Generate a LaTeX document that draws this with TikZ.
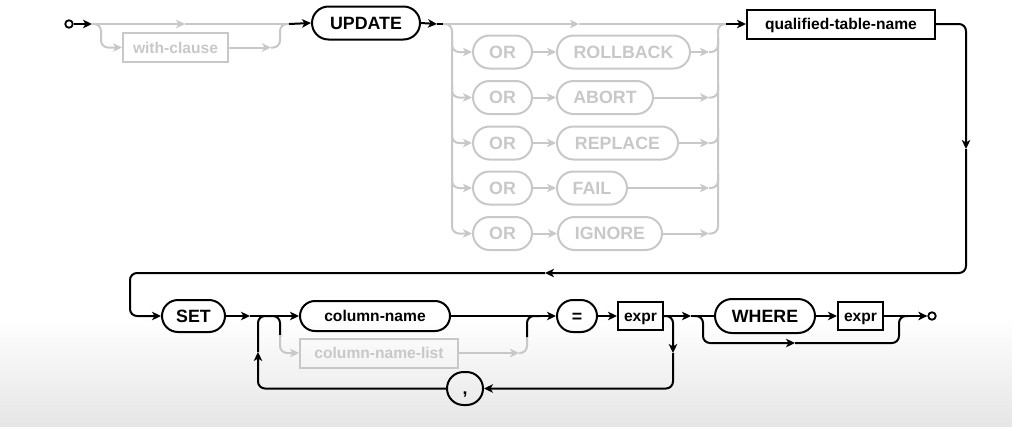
\documentclass[tikz,border=0pt]{standalone}
\usepackage{fontspec}
\setmainfont{Liberation Sans}
\usetikzlibrary{shapes.misc,arrows.meta}
\definecolor{gr}{HTML}{C8C8C8}
\tikzset{
  kwfont/.style={font=\fontsize{17.8}{20}\selectfont\bfseries, text height=12.8pt, text depth=0pt},
  idfont/.style={font=\fontsize{15.6}{18}\selectfont\bfseries, text height=11.2pt, text depth=0pt},
  kw/.style={rounded rectangle, draw, line width=2, inner sep=0, minimum height=33, kwfont},
  kwid/.style={rounded rectangle, draw, line width=2, inner sep=0, minimum height=30, idfont},
  idb/.style={rectangle, draw, line width=2, inner sep=0, minimum height=29, idfont},
  ghost/.style={draw=gr, text=gr},
  conn/.style={line width=2, rounded corners=7},
  arr/.style={-{Stealth[length=9pt,width=8.5pt,inset=2.5pt]}},
  term/.style={circle, draw, line width=1.8, inner sep=0, minimum size=7.5},
}
\begin{document}
\begin{tikzpicture}[x=1pt,y=-1pt]
\useasboundingbox (0,0) rectangle (1012,426);
\fill[white] (0,0) rectangle (1012,426);
\shade[top color=white, bottom color=gray!20] (0,318) rectangle (1012,426);

% ---- nodes row 1
\node[term] (start) at (69,24) {};
\node[idb,ghost,minimum width=105] (with) at (175.5,47.5) {with-clause};
\node[kw,minimum width=108] (update) at (366,23) {UPDATE};
\node[kw,ghost,minimum width=59] (or1) at (502.5,52) {OR};
\node[kw,ghost,minimum width=59] (or2) at (502.5,97.5) {OR};
\node[kw,ghost,minimum width=59] (or3) at (502.5,143) {OR};
\node[kw,ghost,minimum width=59] (or4) at (502.5,188) {OR};
\node[kw,ghost,minimum width=59] (or5) at (502.5,233.5) {OR};
\node[kw,ghost,minimum width=133] (k1) at (623.5,52) {ROLLBACK};
\node[kw,ghost,minimum width=96] (k2) at (605,97.5) {ABORT};
\node[kw,ghost,minimum width=121] (k3) at (617.5,143) {REPLACE};
\node[kw,ghost,minimum width=70] (k4) at (592,188) {FAIL};
\node[kw,ghost,minimum width=104] (k5) at (610,233.5) {IGNORE};
\node[idb,minimum width=188] (qtn) at (841,24) {qualified-table-name};

% ---- nodes row 2
\node[kw,minimum width=63,minimum height=32] (set) at (193.5,316) {SET};
\node[kwid,minimum width=150] (colname) at (375,316) {column-name};
\node[idb,ghost,minimum width=158] (collist) at (379,353) {column-name-list};
\node[kw,minimum width=40,minimum height=32] (eq) at (577,316) {=};
\node[idb,minimum width=45,minimum height=28] (expr1) at (640.5,316) {expr};
\node[kw,minimum width=36] (comma) at (465,388.5) {,};
\node[kw,minimum width=100,minimum height=34] (where) at (765,316) {WHERE};
\node[idb,minimum width=45,minimum height=28] (expr2) at (860.5,316) {expr};
\node[term] (endc) at (932,316) {};

% ---- coordinates
\coordinate (j0) at (92,24);
\coordinate (j1) at (289,24);
\coordinate (j2) at (443,24);
\coordinate (j3) at (726,24);

% ---- row 1 connectors
\draw[conn,arr] (start) -- (j0);
\draw[conn,gr,arr] (j0) -- (185,24);
\draw[conn,gr] (185,24) -- (j1);
\draw[conn,gr,arr] (j0) -- (101,24) -- (101,47.5) -- (with.west);
\draw[conn,gr,arr] (with.east) -- (271,47.5);
\draw[conn,gr] (271,47.5) -- (280,47.5) -- (280,24) -- (j1);
\draw[conn,arr] (j1) -- (update.west);
\draw[conn,arr] (update.east) -- (437,24);
\draw[conn] (437,24) -- (j2);

\draw[conn,gr,arr] (j2) -- (579,24);
\draw[conn,gr] (579,24) -- (j3);
\draw[conn,gr,arr] (j2) -- (452,24) -- (452,233.5) -- (or5.west);
\foreach \i/\y in {1/52,2/97.5,3/143,4/188}{
  \draw[conn,gr,arr] (452,\y-14) -- (452,\y) -- (or\i.west);
}
\foreach \i/\y in {1/52,2/97.5,3/143,4/188,5/233.5}{
  \draw[conn,gr,arr] (or\i.east) -- (k\i.west);
  \draw[conn,gr,arr] (k\i.east) -- (709,\y);
}
\foreach \y in {52,97.5,143,188}{
  \draw[conn,gr] (709,\y) -- (718,\y) -- (718,\y-14);
}
\draw[conn,gr] (709,233.5) -- (718,233.5) -- (718,24) -- (j3);
\draw[conn,arr] (j3) -- (qtn.west);

% ---- wrap to row 2
\coordinate (w1) at (966,149);
\coordinate (w2) at (545,273);
\draw[conn,arr] (qtn.east) -- (966,24) -- (w1);
\draw[conn,arr] (w1) -- (966,273) -- (w2);
\draw[conn,arr] (w2) -- (130,273) -- (130,316) -- (set.west);

% ---- row 2 connectors
\coordinate (s1) at (250,316);
\draw[conn,arr] (set.east) -- (s1);
\draw[conn,arr] (s1) -- (colname.west);
\coordinate (lp) at (258,352);
\draw[conn,arr] (comma.west) -- (258,388.5) -- (lp);
\draw[conn] (lp) -- (258,316) -- (280,316) -- (280,337);
\draw[conn,gr,arr] (280,335) -- (280,353) -- (collist.west);
\draw[conn,gr,arr] (collist.east) -- (519,353);
\draw[conn,gr] (519,353) -- (527,353) -- (527,335);
\draw[conn] (527,337) -- (527,316) -- (540,316);
\draw[conn,arr] (colname.east) -- (eq.west);
\draw[conn,arr] (eq.east) -- (expr1.west);

\coordinate (e1) at (691,316);
\draw[conn,arr] (expr1.east) -- (e1);
\draw[conn] (e1) -- (where.west);
\coordinate (d1) at (673,353);
\draw[conn,arr] (expr1.east) -- (673,316) -- (d1);
\draw[conn,arr] (d1) -- (673,388.5) -- (comma.east);

\coordinate (b1) at (795,343);
\draw[conn,arr] (694,316) -- (703,316) -- (703,343) -- (b1);
\draw[conn] (b1) -- (899,343) -- (899,316) -- (908,316);
\draw[conn,arr] (where.east) -- (expr2.west);
\draw[conn,arr] (expr2.east) -- (endc.west);
\end{tikzpicture}
\end{document}
